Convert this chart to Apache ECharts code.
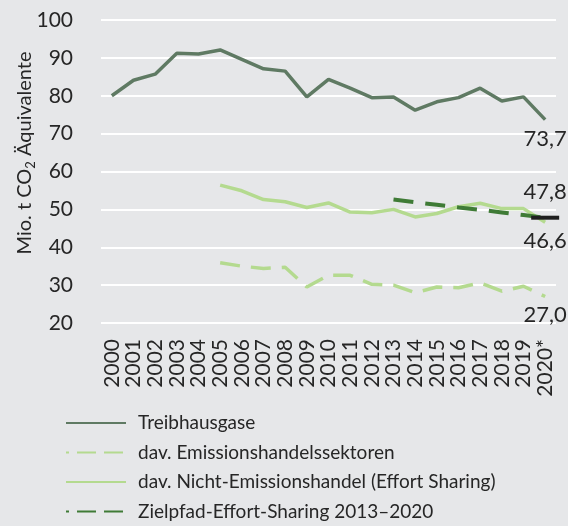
<!DOCTYPE html>
<html>
<head>
<meta charset="utf-8">
<script src="https://cdn.jsdelivr.net/npm/echarts@6/dist/echarts.min.js"></script>
<style>
  html, body { margin: 0; padding: 0; background: #e6e7e9; }
  #chart { width: 568px; height: 526px; }
</style>
</head>
<body>
<div id="chart"></div>
<script>
// Years on the horizontal axis
const years = ['2000','2001','2002','2003','2004','2005','2006','2007','2008','2009','2010',
               '2011','2012','2013','2014','2015','2016','2017','2018','2019','2020*'];

// Emissions in Mio. t CO2-equivalent
const treibhausgase = [80.0, 84.1, 85.7, 91.2, 91.0, 92.1, 89.6, 87.1, 86.5, 79.7, 84.3,
                       82.0, 79.5, 79.7, 76.2, 78.4, 79.5, 82.0, 78.6, 79.7, 73.7];
const emissionshandel = [null, null, null, null, null, 35.9, 35.0, 34.4, 34.7, 29.5, 32.6,
                         32.6, 30.2, 30.0, 28.0, 29.5, 29.3, 30.6, 28.4, 29.7, 27.0];
const nichtEmissionshandel = [null, null, null, null, null, 56.4, 54.9, 52.6, 52.0, 50.5, 51.7,
                              49.3, 49.1, 50.0, 48.0, 48.9, 50.7, 51.6, 50.2, 50.2, 46.6];
const zielpfad = [null, null, null, null, null, null, null, null, null, null, null,
                  null, null, 52.6, 51.9, 51.2, 50.5, 49.9, 49.2, 48.5, 47.8];
const ziel2020 = 47.8;

const yTicks = { min: 20, max: 100, interval: 10 };

const FONT = 'Lato, "Noto Sans", sans-serif';
const TEXT = '#262626';

const fmt = v => v.toFixed(1).replace('.', ',');

// Attach a value label to the last point of a series (a transparent symbol carries it)
function withEndLabel(values, position, distance) {
  return values.map((v, i) => {
    if (i !== values.length - 1 || v == null) return v;
    return {
      value: v,
      symbol: 'circle',
      symbolSize: 1,
      itemStyle: { color: 'rgba(0,0,0,0)', borderWidth: 0 },
      label: {
        show: true, position: position, distance: distance,
        formatter: fmt(v), fontSize: 22, color: TEXT, fontFamily: FONT
      }
    };
  });
}

const dashedLegend = { type: [19, 8], dashOffset: 16 };

const chart = echarts.init(document.getElementById('chart'));
chart.setOption({
  backgroundColor: '#e6e7e9',
  animation: false,
  textStyle: { fontFamily: FONT, color: TEXT },
  grid: { left: 101, right: 12, top: 20, bottom: 203 },
  xAxis: {
    type: 'category',
    data: years,
    boundaryGap: true,
    axisLine: { show: false },
    axisTick: { show: false },
    axisLabel: {
      rotate: 90, interval: 0, margin: 16,
      fontSize: 21, color: TEXT, fontFamily: FONT
    }
  },
  yAxis: {
    type: 'value',
    min: yTicks.min, max: yTicks.max, interval: yTicks.interval,
    axisLine: { show: false },
    axisTick: { show: false },
    splitLine: { lineStyle: { color: '#ffffff', width: 2 } },
    axisLabel: { fontSize: 21, color: TEXT, fontFamily: FONT, margin: 28 }
  },
  legend: {
    orient: 'vertical',
    left: 65, top: 412, padding: 0,
    itemWidth: 60, itemHeight: 14, itemGap: 7.5,
    itemStyle: { opacity: 0 },
    data: [
      { name: 'Treibhausgase' },
      { name: 'dav. Emissionshandelssektoren', lineStyle: dashedLegend },
      { name: 'dav. Nicht-Emissionshandel (Effort Sharing)' },
      { name: 'Zielpfad-Effort-Sharing 2013–2020', lineStyle: dashedLegend }
    ],
    textStyle: { fontSize: 19, lineHeight: 22, color: TEXT, fontFamily: FONT, padding: [0, 0, 0, 7] }
  },
  graphic: [{
    type: 'text',
    x: 25, y: 153,
    rotation: Math.PI / 2,
    style: {
      text: '{m|Mio. t CO}{s|2}{m| Äquivalente}',
      align: 'center', verticalAlign: 'middle',
      fill: TEXT,
      rich: {
        m: { fontSize: 20, fontFamily: FONT, fill: TEXT, lineHeight: 24 },
        s: { fontSize: 13, fontFamily: FONT, fill: TEXT, lineHeight: 24, verticalAlign: 'bottom', padding: [8, 0, 0, 0] }
      }
    }
  }],
  series: [
    {
      name: 'Treibhausgase', type: 'line', symbol: 'none',
      data: withEndLabel(treibhausgase, 'bottom', 8),
      lineStyle: { color: '#5f7a63', width: 3.5 }, itemStyle: { color: '#5f7a63' }, z: 3
    },
    {
      name: 'dav. Emissionshandelssektoren', type: 'line', symbol: 'none',
      data: withEndLabel(emissionshandel, 'bottom', 7),
      lineStyle: { color: '#b4da8f', width: 3.5, type: [20, 11] }, itemStyle: { color: '#b4da8f' }, z: 2
    },
    {
      name: 'dav. Nicht-Emissionshandel (Effort Sharing)', type: 'line', symbol: 'none',
      data: withEndLabel(nichtEmissionshandel, 'bottom', 7),
      lineStyle: { color: '#b4da8f', width: 3.5 }, itemStyle: { color: '#b4da8f' }, z: 2
    },
    {
      name: 'Zielpfad-Effort-Sharing 2013–2020', type: 'line', symbol: 'none',
      data: zielpfad,
      lineStyle: { color: '#3f7b36', width: 4, type: [20, 12] }, itemStyle: { color: '#3f7b36' }, z: 4
    },
    {
      name: 'Ziel 2020', type: 'scatter',
      data: [{
        value: [years[years.length - 1], ziel2020],
        label: {
          show: true, position: 'top', distance: 13,
          formatter: fmt(ziel2020), fontSize: 22, color: TEXT, fontFamily: FONT
        }
      }],
      symbol: 'rect', symbolSize: [28, 4],
      itemStyle: { color: '#1f1f1f', opacity: 1 }, z: 5
    }
  ]
});
</script>
</body>
</html>
